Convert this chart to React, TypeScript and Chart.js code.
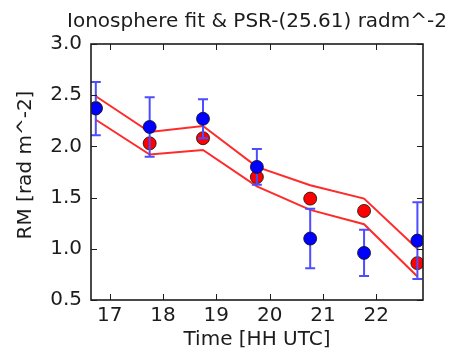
import { useEffect, useRef } from 'react';
import { Chart, registerables } from 'chart.js';

Chart.register(...registerables);

// Observation times (hours UTC)
const times = [16.74, 17.75, 18.75, 19.76, 20.76, 21.77, 22.77];
// Measured RM and its 1-sigma error
const rmObserved = [2.37, 2.19, 2.27, 1.8, 1.1, 0.96, 1.08];
const rmError = [0.26, 0.29, 0.19, 0.175, 0.29, 0.225, 0.375];
// Ionosphere model prediction with its upper / lower envelope
const rmModel = [2.375, 2.03, 2.08, 1.7, 1.49, 1.37, 0.86];
const rmModelUpper = [2.49, 2.14, 2.2, 1.8, 1.62, 1.49, 1.0];
const rmModelLower = [2.26, 1.92, 1.965, 1.61, 1.38, 1.24, 0.73];
// Axis ticks
const xTicks = [17, 18, 19, 20, 21, 22];
const yTicks = [0.5, 1.0, 1.5, 2.0, 2.5, 3.0];

const TITLE = 'Ionosphere fit & PSR-(25.61) radm^-2';
const Y_LABEL = 'RM [rad m^-2]';
const FONT = 'DejaVu Sans';
const INK = '#1c1c1c';
const MODEL_POINTS_INDEX = 2;

const toXY = (ys: number[]) => ys.map((y, i) => ({ x: times[i], y }));

// Vertical error bars with caps, painted right after the model markers
const errorBars = {
  id: 'errorBars',
  afterDatasetDraw(chart: any, args: any) {
    if (args.index !== MODEL_POINTS_INDEX) return;
    const { ctx, scales, chartArea } = chart;
    const xs = scales.x;
    const ys = scales.y;
    ctx.save();
    ctx.beginPath();
    ctx.rect(chartArea.left, chartArea.top, chartArea.right - chartArea.left, chartArea.bottom - chartArea.top);
    ctx.clip();
    ctx.strokeStyle = '#4d4dff';
    ctx.lineWidth = 2;
    times.forEach((t, i) => {
      const px = xs.getPixelForValue(t);
      const top = ys.getPixelForValue(rmObserved[i] + rmError[i]);
      const bot = ys.getPixelForValue(rmObserved[i] - rmError[i]);
      ctx.beginPath();
      ctx.moveTo(px, top);
      ctx.lineTo(px, bot);
      ctx.moveTo(px - 5, top);
      ctx.lineTo(px + 5, top);
      ctx.moveTo(px - 5, bot);
      ctx.lineTo(px + 5, bot);
      ctx.stroke();
    });
    ctx.restore();
  },
};

// Box frame with inward ticks on all four sides, plus the plot title and y label
const frameTicks = {
  id: 'frameTicks',
  afterDatasetsDraw(chart: any) {
    const { ctx, chartArea, scales } = chart;
    const { left, right, top, bottom } = chartArea;
    ctx.save();
    ctx.strokeStyle = INK;
    ctx.lineWidth = 1;
    ctx.beginPath();
    xTicks.forEach((v) => {
      const px = Math.round(scales.x.getPixelForValue(v)) + 0.5;
      ctx.moveTo(px, bottom);
      ctx.lineTo(px, bottom - 6);
      ctx.moveTo(px, top);
      ctx.lineTo(px, top + 6);
    });
    yTicks.forEach((v) => {
      const py = Math.round(scales.y.getPixelForValue(v)) + 0.5;
      ctx.moveTo(left, py);
      ctx.lineTo(left + 6, py);
      ctx.moveTo(right, py);
      ctx.lineTo(right - 6, py);
    });
    ctx.stroke();
    ctx.lineWidth = 1.6;
    ctx.strokeRect(left, top, right - left, bottom - top);

    ctx.fillStyle = INK;
    ctx.font = `20px "${FONT}"`;
    ctx.textAlign = 'center';
    ctx.textBaseline = 'middle';
    ctx.fillText(TITLE, (left + right) / 2, 22);

    ctx.translate(26, 165);
    ctx.rotate(-Math.PI / 2);
    ctx.fillText(Y_LABEL, 0, 0);
    ctx.restore();
  },
};

export default function App() {
  const canvasRef = useRef<HTMLCanvasElement>(null);

  useEffect(() => {
    const canvas = canvasRef.current;
    if (!canvas) return;
    const chart = new Chart(canvas, {
      type: 'line',
      data: {
        datasets: [
          {
            label: 'RM',
            data: toXY(rmObserved),
            showLine: false,
            pointRadius: 6.5,
            pointBackgroundColor: '#0000ff',
            pointBorderColor: '#111',
            pointBorderWidth: 0.8,
            order: 0,
            clip: 0,
          },
          {
            label: 'upper',
            data: toXY(rmModelUpper),
            borderColor: '#ff2a2a',
            borderWidth: 2,
            pointRadius: 0,
            tension: 0,
            fill: false,
            order: 3,
            clip: 0,
          },
          {
            label: 'model',
            data: toXY(rmModel),
            showLine: false,
            pointRadius: 6.5,
            pointBackgroundColor: '#ff0000',
            pointBorderColor: '#111',
            pointBorderWidth: 0.8,
            order: 1,
            clip: 0,
          },
          {
            label: 'lower',
            data: toXY(rmModelLower),
            borderColor: '#ff2a2a',
            borderWidth: 2,
            pointRadius: 0,
            tension: 0,
            fill: false,
            order: 4,
            clip: 0,
          },
        ],
      },
      options: {
        responsive: false,
        animation: false,
        devicePixelRatio: 1,
        layout: { padding: { left: 0, right: 29, top: 44, bottom: 0 } },
        plugins: {
          legend: { display: false },
          tooltip: { enabled: false },
          title: { display: false },
        },
        scales: {
          x: {
            type: 'linear',
            min: 16.65,
            max: 22.875,
            afterBuildTicks: (axis: any) => {
              axis.ticks = xTicks.map((v) => ({ value: v }));
            },
            afterFit: (axis: any) => {
              axis.height = 52;
            },
            grid: { display: false, drawTicks: false },
            border: { display: false },
            ticks: {
              color: INK,
              font: { family: FONT, size: 20 },
              padding: 4,
              maxRotation: 0,
              autoSkip: false,
              callback: (v: any) => String(v),
            },
            title: {
              display: true,
              text: 'Time [HH UTC]',
              color: INK,
              font: { family: FONT, size: 20 },
              padding: { top: 0, bottom: 0 },
            },
          },
          y: {
            type: 'linear',
            min: 0.5,
            max: 3.0,
            afterBuildTicks: (axis: any) => {
              axis.ticks = yTicks.map((v) => ({ value: v }));
            },
            afterFit: (axis: any) => {
              axis.width = 91;
            },
            grid: { display: false, drawTicks: false },
            border: { display: false },
            ticks: {
              color: INK,
              font: { family: FONT, size: 20 },
              padding: 9,
              autoSkip: false,
              callback: (v: any) => Number(v).toFixed(1),
            },
            title: { display: false },
          },
        },
      },
      plugins: [errorBars, frameTicks],
    });
    return () => chart.destroy();
  }, []);

  return (
    <div style={{ position: 'fixed', left: 0, top: 0, width: 452, height: 352, background: '#fff' }}>
      <canvas ref={canvasRef} width={452} height={352} />
    </div>
  );
}
